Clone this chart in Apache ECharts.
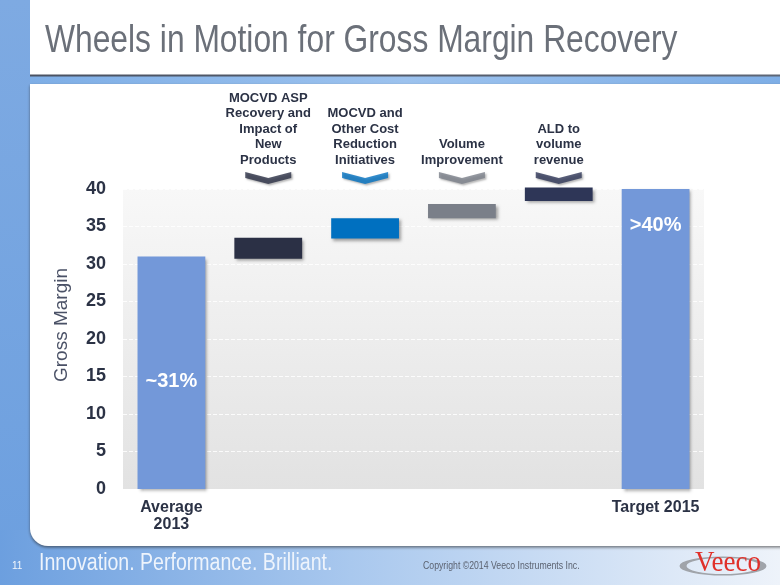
<!DOCTYPE html>
<html><head><meta charset="utf-8">
<script src="https://cdn.jsdelivr.net/npm/echarts@6/dist/echarts.min.js"></script>
<style>html,body{margin:0;padding:0;background:#fff}#c{width:780px;height:585px}</style>
</head><body><div id="c"></div>
<script>
// ---- data ----
const categories = ['Average\n2013', '', '', '', '', 'Target 2015'];
const stepLabels = ['', 'MOCVD ASP\nRecovery and\nImpact of\nNew\nProducts', 'MOCVD and\nOther Cost\nReduction\nInitiatives', 'Volume\nImprovement', 'ALD to\nvolume\nrevenue', ''];
const barLow  = [0, 30.7, 33.4, 36.1, 38.4, 0];
const barHigh = [31, 33.5, 36.1, 38.0, 40.2, 40];
const barLabels = ['~31%', '', '', '', '', '>40%'];
const barColors = ['#7398d9', '#2b3045', '#0070c0', '#7a7f89', '#2e3657', '#7398d9'];
const chevronSteps = [1, 2, 3, 4];
const yMin = 0, yMax = 40, yStep = 5;
const titleText = 'Wheels in Motion for Gross Margin Recovery';
const yTitle = 'Gross Margin';

const SANS = '"Liberation Sans", Arial, sans-serif';

const chart = echarts.init(document.getElementById('c'));

const stepData = barHigh.map((h, i) => {
  const item = {
    value: +(h - barLow[i]).toFixed(2),
    itemStyle: { color: barColors[i] }
  };
  if (barLabels[i]) {
    item.label = i === 0
      ? { show: true, position: 'inside', offset: [0, 9], formatter: barLabels[i] }
      : { show: true, position: 'insideTop', distance: 26, formatter: barLabels[i] };
  }
  return item;
});

const chevronData = chevronSteps.map(i => ({ value: [i, yMax], itemStyle: { color: barColors[i] } }));

const option = {
  animation: false,
  backgroundColor: '#ffffff',
  graphic: [
    { type: 'rect', silent: true, z: -10, shape: { x: 0, y: 0, width: 30, height: 585 },
      style: { fill: new echarts.graphic.LinearGradient(0, 0, 0, 1, [{ offset: 0, color: '#7eaae2' }, { offset: 1, color: '#6c9fdf' }]) } },
    { type: 'rect', silent: true, z: -10, shape: { x: 0, y: 530, width: 780, height: 55 },
      style: { fill: new echarts.graphic.LinearGradient(0, 0, 1, 0, [{ offset: 0, color: '#6c9fdf' }, { offset: 0.45, color: '#a9c8ee' }, { offset: 1, color: '#eef3fa' }]) } },
    { type: 'rect', silent: true, z: -9, shape: { x: 30, y: 75, width: 750, height: 9 },
      style: { fill: new echarts.graphic.LinearGradient(0, 0, 1, 0, [{ offset: 0, color: '#7eaee6' }, { offset: 0.5, color: '#9cc2ee' }, { offset: 1, color: '#7eaee6' }]) } },
    { type: 'rect', silent: true, z: -8, shape: { x: 30, y: 74.5, width: 750, height: 2 },
      style: { fill: new echarts.graphic.LinearGradient(0, 0, 1, 0, [{ offset: 0, color: '#4a5262' }, { offset: 1, color: '#5d6676' }]) } },
    { type: 'rect', silent: true, z: -9, shape: { x: 30, y: 84, width: 760, height: 462, r: [0, 0, 0, 18] },
      style: { fill: '#ffffff', shadowBlur: 3, shadowOffsetY: 1.5, shadowColor: 'rgba(40,40,40,0.6)' } },
    { type: 'text', silent: true, x: 45, y: 41, scaleX: 0.815,
      style: { text: titleText, font: '39px ' + SANS, fill: '#6b7079', verticalAlign: 'middle', align: 'left' } },
    { type: 'text', silent: true, x: 62, y: 325, rotation: Math.PI / 2,
      style: { text: yTitle, font: '19px ' + SANS, fill: '#4a5166', align: 'center', verticalAlign: 'middle' } },
    { type: 'text', silent: true, x: 12, y: 566,
      style: { text: '11', font: '10px ' + SANS, fill: '#f2f6fc', verticalAlign: 'middle' } },
    { type: 'text', silent: true, x: 39, y: 564, scaleX: 0.85,
      style: { text: 'Innovation. Performance. Brilliant.', font: '23px ' + SANS, fill: '#eef4fc', verticalAlign: 'middle' } },
    { type: 'text', silent: true, x: 423, y: 566, scaleX: 0.83,
      style: { text: 'Copyright \u00a92014 Veeco Instruments Inc.', font: '10.5px ' + SANS, fill: '#5b6270', verticalAlign: 'middle' } },
    { type: 'circle', silent: true, x: 723, y: 566, scaleX: 1, scaleY: 0.22,
      shape: { cx: 0, cy: 0, r: 40 }, style: { fill: 'none', stroke: '#a0a4aa', lineWidth: 7 } },
    { type: 'text', silent: true, x: 728, y: 563, scaleX: 0.9,
      style: { text: 'Veeco', font: '30px "Liberation Serif", "Times New Roman", serif', fill: '#e0302a', align: 'center', verticalAlign: 'middle' } }
  ],
  grid: {
    left: 123, right: 76, top: 189, bottom: 96,
    show: true, borderWidth: 0,
    backgroundColor: new echarts.graphic.LinearGradient(0, 0, 0, 1, [{ offset: 0, color: '#f8f8f8' }, { offset: 1, color: '#e2e2e2' }])
  },
  xAxis: [
    {
      type: 'category', data: categories, position: 'bottom',
      axisLine: { show: false }, axisTick: { show: false },
      axisLabel: { interval: 0, margin: 10, color: '#2b3245', fontFamily: SANS, fontWeight: 'bold', fontSize: 16, lineHeight: 17 }
    },
    {
      type: 'category', data: stepLabels, position: 'top',
      axisLine: { show: false }, axisTick: { show: false },
      axisLabel: { interval: 0, margin: 21, color: '#2b3245', fontFamily: SANS, fontWeight: 'bold', fontSize: 13, lineHeight: 15.5 }
    }
  ],
  yAxis: {
    type: 'value', min: yMin, max: yMax, interval: yStep,
    axisLine: { show: false }, axisTick: { show: false },
    axisLabel: { margin: 17, color: '#2b3245', fontFamily: SANS, fontWeight: 'bold', fontSize: 18 },
    splitLine: { show: true, lineStyle: { color: 'rgba(255,255,255,0.85)', type: 'dashed', width: 1 } }
  },
  series: [
    {
      type: 'bar', stack: 'w', data: barLow, barWidth: '70%', silent: true,
      itemStyle: { color: 'rgba(0,0,0,0)' }
    },
    {
      type: 'bar', stack: 'w', data: stepData, barWidth: '70%', clip: false,
      itemStyle: { shadowBlur: 3, shadowOffsetX: 2, shadowOffsetY: 2, shadowColor: 'rgba(0,0,0,0.35)' },
      label: { color: '#ffffff', fontFamily: SANS, fontWeight: 'bold', fontSize: 20 }
    },
    {
      type: 'scatter', data: chevronData, clip: false, z: 5,
      symbol: 'path://M0,0 L23,6 L46,0 L46,6 L23,12 L0,6 Z', symbolKeepAspect: false,
      symbolSize: [46, 12], symbolOffset: [0, -11],
      itemStyle: { shadowBlur: 2, shadowOffsetX: 1.5, shadowOffsetY: 1.5, shadowColor: 'rgba(0,0,0,0.35)' }
    }
  ]
};
chart.setOption(option);
</script>
</body></html>
